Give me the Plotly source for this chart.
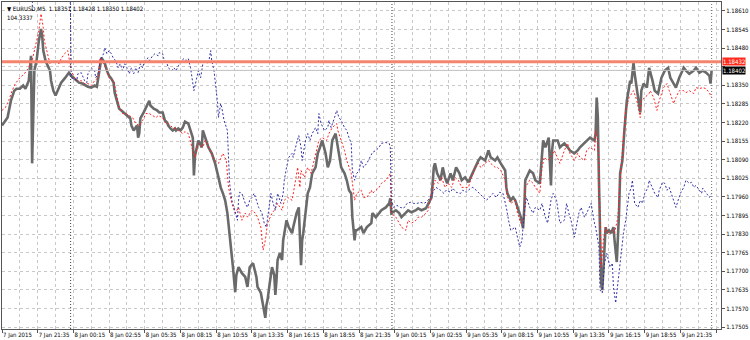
import plotly.graph_objects as go

# ---- axis labels ----
tick_bars = [0, 32, 64, 96, 128, 160, 192, 224, 256, 288, 320, 352, 384, 416, 448, 480, 512, 544, 576, 608, 640]
tick_text = ["7 Jan 2015", "7 Jan 21:35", "8 Jan 00:15", "8 Jan 02:55", "8 Jan 05:35", "8 Jan 08:15",
             "8 Jan 10:55", "8 Jan 13:35", "8 Jan 16:15", "8 Jan 18:55", "8 Jan 21:35", "9 Jan 00:15",
             "9 Jan 02:55", "9 Jan 05:35", "9 Jan 08:15", "9 Jan 10:55", "9 Jan 13:35", "9 Jan 16:15",
             "9 Jan 18:55", "9 Jan 21:35", ""]
minor_bars = [16, 48, 80, 112, 144, 176, 208, 240, 272, 304, 336, 368, 400, 432, 464, 496, 528, 560, 592, 624]
price_ticks = [1.18610, 1.18545, 1.18480, 1.18415, 1.18350, 1.18285, 1.18220, 1.18155, 1.18090,
               1.18025, 1.17960, 1.17895, 1.17830, 1.17765, 1.17700, 1.17635, 1.17570, 1.17505]
price_tick_text = ["1.18610", "1.18545", "1.18480", "", "1.18350", "1.18285", "1.18220", "1.18155", "1.18090",
                   "1.18025", "1.17960", "1.17895", "1.17830", "1.17765", "1.17700", "1.17635", "1.17570", "1.17505"]

header_text = "▼ EURUSD,M5  1.18351 1.18428 1.18350 1.18402"
sub_text = "104.3337"
level_line = 1.18432
bid_line = 1.18402
day_separators = [61.5, 349.5]
last_bar_marker = 636

# ---- EURUSD M5 (gray) ----
gray_bar = [0, 3, 5, 8, 11, 13, 16, 19, 21, 24,
            26, 27, 28, 29, 31, 33, 35, 36, 37, 39,
            41, 43, 44, 46, 48, 50, 52, 53, 56, 59,
            60, 62, 64, 67, 69, 72, 75, 77, 80, 83,
            85, 86, 88, 89, 91, 92, 94, 96, 98, 100,
            101, 103, 105, 107, 109, 112, 115, 116, 118, 121,
            122, 123, 124, 127, 130, 132, 133, 136, 139, 141,
            144, 146, 148, 149, 151, 153, 155, 156, 158, 160,
            162, 164, 167, 171, 172, 173, 174, 176, 179, 180,
            183, 185, 188, 191, 194, 196, 198, 200, 202, 204,
            206, 207, 209, 210, 212, 215, 218, 220, 222, 225,
            228, 229, 232, 234, 236, 237, 238, 240, 242, 244,
            245, 246, 247, 249, 251, 252, 255, 257, 260, 261,
            264, 266, 268, 269, 270, 272, 274, 276, 278, 281,
            283, 285, 287, 290, 292, 294, 296, 299, 300, 302,
            304, 307, 309, 311, 313, 314, 316, 317, 318, 322,
            324, 327, 331, 332, 335, 338, 340, 344, 347, 348,
            349, 353, 356, 358, 362, 364, 367, 371, 373, 376,
            380, 382, 385, 387, 388, 390, 393, 395, 397, 399,
            402, 404, 407, 410, 412, 415, 418, 420, 424, 427,
            429, 433, 436, 438, 442, 444, 447, 451, 452, 453,
            456, 458, 460, 462, 465, 467, 468, 469, 473, 476,
            478, 482, 484, 485, 487, 490, 492, 493, 494, 496,
            498, 500, 504, 507, 509, 513, 516, 518, 522, 524,
            527, 531, 532, 533, 534, 535, 536, 537, 538, 540,
            541, 542, 544, 546, 548, 549, 551, 553, 554, 556,
            557, 558, 560, 562, 563, 564, 566, 567, 569, 572,
            573, 575, 578, 580, 583, 585, 588, 591, 594, 597,
            599, 602, 604, 607, 611, 613, 616, 620, 622, 625,
            628, 631, 634, 635, 636]
gray_price = [1.18209, 1.18227, 1.18237, 1.18296, 1.18331, 1.18338, 1.18338, 1.18349, 1.18338, 1.18366,
              1.18453, 1.18077, 1.18227, 1.18401, 1.18436, 1.18505, 1.18547, 1.18523, 1.18471, 1.18436,
              1.18418, 1.18401, 1.18366, 1.18331, 1.18314, 1.18331, 1.18349, 1.18359, 1.18373, 1.18387,
              1.18394, 1.18383, 1.18376, 1.18366, 1.18359, 1.18356, 1.18349, 1.18345, 1.18342, 1.18349,
              1.18345, 1.18366, 1.18418, 1.18446, 1.18436, 1.18429, 1.18401, 1.18383, 1.18373, 1.18359,
              1.18324, 1.18296, 1.18268, 1.18262, 1.18255, 1.18244, 1.18234, 1.18209, 1.18192, 1.18209,
              1.18167, 1.18181, 1.18234, 1.18255, 1.18279, 1.18296, 1.18279, 1.18268, 1.18262, 1.18255,
              1.18255, 1.18227, 1.18220, 1.18209, 1.18199, 1.18192, 1.18199, 1.18192, 1.18199, 1.18192,
              1.18202, 1.18223, 1.18216, 1.18167, 1.18035, 1.18105, 1.18122, 1.18157, 1.18133, 1.18192,
              1.18157, 1.18133, 1.18112, 1.18077, 1.18028, 1.17993, 1.17972, 1.17948, 1.17903, 1.17833,
              1.17763, 1.17714, 1.17627, 1.17686, 1.17714, 1.17693, 1.17680, 1.17645, 1.17714, 1.17728,
              1.17680, 1.17645, 1.17624, 1.17575, 1.17537, 1.17582, 1.17599, 1.17659, 1.17714, 1.17686,
              1.17617, 1.17669, 1.17739, 1.17763, 1.17739, 1.17808, 1.17878, 1.17854, 1.17833, 1.17854,
              1.17903, 1.17923, 1.17721, 1.17808, 1.17833, 1.17903, 1.17972, 1.17993, 1.18042, 1.18063,
              1.18112, 1.18133, 1.18157, 1.18112, 1.18063, 1.18087, 1.18157, 1.18181, 1.18157, 1.18122,
              1.18063, 1.18042, 1.18018, 1.17983, 1.17972, 1.17889, 1.17808, 1.17843, 1.17843, 1.17854,
              1.17833, 1.17854, 1.17868, 1.17903, 1.17889, 1.17903, 1.17913, 1.17923, 1.17937, 1.17955,
              1.17903, 1.17913, 1.17903, 1.17889, 1.17903, 1.17913, 1.17906, 1.17913, 1.17920, 1.17913,
              1.17920, 1.17937, 1.17958, 1.18063, 1.18077, 1.18042, 1.18018, 1.18063, 1.18028, 1.18007,
              1.18042, 1.18018, 1.18063, 1.18042, 1.18018, 1.18028, 1.18011, 1.18028, 1.18063, 1.18087,
              1.18098, 1.18087, 1.18122, 1.18098, 1.18087, 1.18098, 1.18077, 1.18052, 1.17993, 1.17972,
              1.17948, 1.17958, 1.17948, 1.17923, 1.17889, 1.17850, 1.17913, 1.18018, 1.18052, 1.18042,
              1.18018, 1.18007, 1.18098, 1.18157, 1.18133, 1.18167, 1.18000, 1.18122, 1.18157, 1.18157,
              1.18157, 1.18133, 1.18147, 1.18133, 1.18122, 1.18112, 1.18122, 1.18133, 1.18147, 1.18157,
              1.18167, 1.18157, 1.18181, 1.18307, 1.18237, 1.18018, 1.17833, 1.17659, 1.17634, 1.17774,
              1.17854, 1.17833, 1.17843, 1.17833, 1.17854, 1.17808, 1.17732, 1.17903, 1.18042, 1.18087,
              1.18157, 1.18202, 1.18296, 1.18356, 1.18366, 1.18356, 1.18429, 1.18390, 1.18331, 1.18255,
              1.18331, 1.18356, 1.18342, 1.18411, 1.18366, 1.18331, 1.18321, 1.18376, 1.18401, 1.18411,
              1.18376, 1.18356, 1.18342, 1.18376, 1.18411, 1.18401, 1.18390, 1.18401, 1.18411, 1.18394,
              1.18401, 1.18394, 1.18383, 1.18356, 1.18402]

# ---- red dotted indicator ----
red_bar = [0, 3, 6, 9, 12, 16, 20, 24, 27, 29,
           33, 35, 37, 38, 41, 43, 44, 47, 51, 53,
           56, 59, 60, 62, 65, 68, 71, 74, 77, 80,
           83, 86, 88, 91, 93, 96, 100, 102, 105, 108,
           111, 114, 117, 120, 123, 126, 129, 132, 135, 138,
           140, 144, 147, 149, 153, 156, 158, 162, 164, 167,
           171, 173, 176, 180, 182, 185, 188, 191, 194, 196,
           198, 201, 203, 206, 209, 212, 215, 218, 220, 224,
           227, 229, 232, 234, 236, 238, 242, 244, 247, 251,
           253, 256, 260, 262, 265, 267, 268, 271, 274, 277,
           280, 283, 284, 287, 291, 293, 296, 300, 301, 304,
           307, 309, 313, 316, 318, 322, 324, 327, 331, 332,
           335, 338, 340, 344, 347, 348, 349, 353, 356, 358,
           362, 364, 367, 371, 373, 376, 380, 382, 385, 388,
           391, 394, 397, 400, 403, 406, 409, 412, 415, 418,
           420, 424, 427, 429, 433, 436, 438, 442, 444, 447,
           451, 453, 456, 460, 462, 465, 468, 469, 473, 476,
           478, 482, 484, 486, 489, 492, 495, 498, 500, 504,
           507, 509, 513, 516, 518, 522, 524, 527, 531, 532,
           534, 535, 536, 537, 539, 541, 544, 547, 549, 552,
           554, 556, 557, 559, 562, 564, 566, 569, 572, 573,
           576, 580, 581, 584, 587, 589, 593, 596, 598, 602,
           604, 607, 611, 613, 616, 620, 622, 625, 628, 631,
           634, 636]
red_price = [1.18262, 1.18272, 1.18296, 1.18331, 1.18356, 1.18376, 1.18390, 1.18411, 1.18436, 1.18471,
             1.18540, 1.18600, 1.18551, 1.18505, 1.18460, 1.18425, 1.18429, 1.18436, 1.18425, 1.18443,
             1.18460, 1.18471, 1.18446, 1.18401, 1.18376, 1.18366, 1.18366, 1.18356, 1.18356, 1.18349,
             1.18366, 1.18376, 1.18446, 1.18425, 1.18411, 1.18376, 1.18366, 1.18331, 1.18272, 1.18251,
             1.18251, 1.18244, 1.18237, 1.18216, 1.18209, 1.18227, 1.18251, 1.18251, 1.18244, 1.18237,
             1.18244, 1.18237, 1.18216, 1.18216, 1.18202, 1.18199, 1.18192, 1.18181, 1.18188, 1.18181,
             1.18122, 1.18098, 1.18147, 1.18133, 1.18157, 1.18133, 1.18112, 1.18087, 1.18077, 1.18098,
             1.18112, 1.18087, 1.17993, 1.17937, 1.17903, 1.17923, 1.17878, 1.17903, 1.17889, 1.17913,
             1.17903, 1.17889, 1.17854, 1.17774, 1.17808, 1.17868, 1.17903, 1.17913, 1.17937, 1.17913,
             1.17948, 1.17958, 1.17948, 1.17993, 1.18063, 1.17993, 1.18052, 1.18028, 1.18063, 1.18042,
             1.18087, 1.18133, 1.18157, 1.18167, 1.18157, 1.18181, 1.18202, 1.18216, 1.18192, 1.18157,
             1.18122, 1.18087, 1.18042, 1.17948, 1.17972, 1.17983, 1.17958, 1.17958, 1.17983, 1.17972,
             1.17983, 1.17993, 1.18007, 1.18018, 1.18035, 1.18042, 1.17903, 1.17889, 1.17868, 1.17854,
             1.17843, 1.17878, 1.17868, 1.17878, 1.17889, 1.17889, 1.17903, 1.17913, 1.17972, 1.18018,
             1.18007, 1.18028, 1.17993, 1.18007, 1.17993, 1.18028, 1.18018, 1.17993, 1.17993, 1.17993,
             1.18018, 1.18063, 1.18077, 1.18063, 1.18077, 1.18087, 1.18077, 1.18063, 1.18063, 1.18052,
             1.18018, 1.17958, 1.17937, 1.17948, 1.17903, 1.17868, 1.17889, 1.17993, 1.18018, 1.18007,
             1.17993, 1.17972, 1.18063, 1.18098, 1.18087, 1.18098, 1.18122, 1.18098, 1.18077, 1.18122,
             1.18147, 1.18112, 1.18087, 1.18112, 1.18098, 1.18087, 1.18122, 1.18133, 1.18122, 1.18192,
             1.18157, 1.18063, 1.17833, 1.17714, 1.17808, 1.17854, 1.17833, 1.17843, 1.17833, 1.17889,
             1.18018, 1.18112, 1.18181, 1.18262, 1.18307, 1.18321, 1.18331, 1.18296, 1.18237, 1.18296,
             1.18307, 1.18321, 1.18331, 1.18307, 1.18262, 1.18296, 1.18342, 1.18356, 1.18331, 1.18286,
             1.18307, 1.18331, 1.18331, 1.18324, 1.18331, 1.18321, 1.18342, 1.18338, 1.18342, 1.18338,
             1.18324, 1.18307]

# ---- blue dotted overlay ----
blue_bar = [27, 28, 61, 62, 65, 67, 68, 71, 74, 76,
            77, 80, 83, 84, 86, 88, 91, 92, 94, 96,
            98, 100, 102, 104, 106, 108, 110, 112, 114, 116,
            118, 120, 122, 124, 126, 128, 131, 132, 135, 137,
            140, 141, 144, 145, 148, 149, 152, 154, 156, 158,
            161, 163, 165, 167, 169, 171, 172, 174, 176, 178,
            180, 182, 185, 187, 188, 190, 193, 194, 196, 197,
            199, 202, 203, 204, 206, 208, 211, 212, 213, 215,
            218, 220, 222, 224, 226, 228, 230, 233, 235, 237,
            239, 241, 243, 245, 247, 250, 252, 253, 255, 257,
            260, 261, 264, 266, 268, 269, 272, 274, 276, 278,
            281, 283, 284, 286, 289, 292, 293, 295, 298, 300,
            302, 304, 307, 309, 311, 313, 314, 316, 318, 320,
            322, 324, 327, 329, 332, 335, 338, 340, 344, 347,
            348, 349, 351, 354, 357, 360, 363, 366, 369, 372,
            375, 378, 380, 384, 387, 389, 393, 396, 398, 402,
            404, 407, 411, 413, 416, 420, 422, 425, 428, 431,
            434, 437, 440, 443, 446, 449, 452, 454, 456, 460,
            461, 464, 466, 468, 470, 473, 476, 478, 482, 484,
            487, 489, 492, 494, 497, 499, 500, 504, 506, 508,
            510, 513, 515, 517, 519, 522, 524, 526, 528, 531,
            532, 535, 536, 538, 540, 542, 545, 547, 548, 550,
            553, 555, 557, 559, 562, 564, 565, 567, 570, 572,
            574, 576, 579, 580, 583, 585, 588, 589, 592, 594,
            596, 598, 601, 604, 606, 608, 611, 613, 616, 618,
            620, 622, 625, 627, 628, 631, 634, 636]
blue_price = [1.18610, 1.18715, 1.18715, 1.18376, 1.18373, 1.18366, 1.18390, 1.18394, 1.18366, 1.18359,
              1.18390, 1.18411, 1.18401, 1.18376, 1.18390, 1.18436, 1.18460, 1.18481, 1.18460, 1.18471,
              1.18460, 1.18443, 1.18436, 1.18411, 1.18425, 1.18401, 1.18425, 1.18411, 1.18390, 1.18411,
              1.18390, 1.18411, 1.18394, 1.18425, 1.18411, 1.18436, 1.18446, 1.18436, 1.18453, 1.18460,
              1.18453, 1.18464, 1.18460, 1.18443, 1.18425, 1.18411, 1.18401, 1.18411, 1.18401, 1.18418,
              1.18436, 1.18443, 1.18436, 1.18443, 1.18411, 1.18342, 1.18331, 1.18366, 1.18401, 1.18376,
              1.18425, 1.18436, 1.18425, 1.18471, 1.18436, 1.18401, 1.18296, 1.18237, 1.18286, 1.18272,
              1.18227, 1.18192, 1.18098, 1.18007, 1.17948, 1.17923, 1.17878, 1.17948, 1.17976, 1.17972,
              1.17937, 1.17923, 1.17948, 1.17958, 1.17972, 1.17948, 1.17923, 1.17903, 1.17868, 1.17854,
              1.17923, 1.17972, 1.17937, 1.17913, 1.17972, 1.17937, 1.17972, 1.18018, 1.18063, 1.18098,
              1.18112, 1.18098, 1.18147, 1.18174, 1.18133, 1.18087, 1.18157, 1.18181, 1.18157, 1.18181,
              1.18202, 1.18181, 1.18251, 1.18216, 1.18192, 1.18202, 1.18227, 1.18202, 1.18237, 1.18262,
              1.18237, 1.18227, 1.18202, 1.18192, 1.18167, 1.18147, 1.18052, 1.18018, 1.18042, 1.18052,
              1.18087, 1.18063, 1.18077, 1.18094, 1.18115, 1.18122, 1.18133, 1.18147, 1.18150, 1.18147,
              1.18133, 1.17948, 1.17923, 1.17930, 1.17923, 1.17920, 1.17937, 1.17941, 1.17937, 1.17937,
              1.17941, 1.17937, 1.17941, 1.17958, 1.17983, 1.17993, 1.17983, 1.17972, 1.17983, 1.17976,
              1.17990, 1.17976, 1.17972, 1.17983, 1.17976, 1.17990, 1.17993, 1.17983, 1.17972, 1.17958,
              1.17948, 1.17958, 1.17972, 1.17958, 1.17976, 1.17972, 1.17923, 1.17878, 1.17843, 1.17854,
              1.17833, 1.17784, 1.17808, 1.17903, 1.17958, 1.17923, 1.17903, 1.17923, 1.17913, 1.17937,
              1.17889, 1.17868, 1.17948, 1.17972, 1.17948, 1.17889, 1.17868, 1.17878, 1.17937, 1.17903,
              1.17878, 1.17819, 1.17868, 1.17903, 1.17923, 1.17889, 1.17903, 1.17923, 1.17937, 1.17868,
              1.17854, 1.17784, 1.17634, 1.17624, 1.17728, 1.17763, 1.17714, 1.17728, 1.17645, 1.17589,
              1.17693, 1.17784, 1.17833, 1.17878, 1.17972, 1.17993, 1.18018, 1.17937, 1.17923, 1.17948,
              1.17937, 1.17972, 1.17993, 1.18018, 1.17993, 1.17972, 1.17958, 1.17983, 1.18011, 1.18007,
              1.17983, 1.17993, 1.17958, 1.17923, 1.17948, 1.17972, 1.17993, 1.18018, 1.18007, 1.18011,
              1.17993, 1.18000, 1.17983, 1.17972, 1.17990, 1.17976, 1.17958, 1.17972]

FONT = "Liberation Sans Narrow, DejaVu Sans Condensed, Liberation Sans, Arial, sans-serif"

fig = go.Figure()
fig.add_trace(go.Scatter(x=gray_bar, y=gray_price, mode="lines",
                         line=dict(color="#6a6a6a", width=2.6), hoverinfo="skip"))
fig.add_trace(go.Scatter(x=red_bar, y=red_price, mode="lines",
                         line=dict(color="#ff2020", width=1, dash="2px,2px"), hoverinfo="skip"))
fig.add_trace(go.Scatter(x=blue_bar, y=blue_price, mode="lines",
                         line=dict(color="#3030a8", width=1, dash="2px,2px"), hoverinfo="skip"))

for b in day_separators:
    fig.add_vline(x=b, line=dict(color="#404040", width=1, dash="1px,2px"), layer="above")
fig.add_vline(x=last_bar_marker, line=dict(color="#707070", width=1, dash="1px,2px"), layer="above")

fig.add_hline(y=bid_line, line=dict(color="#c0c0c0", width=1), layer="above")
fig.add_hline(y=level_line, line=dict(color="#f4846e", width=3), layer="above")

fig.add_annotation(xref="paper", yref="y", x=1.0, y=level_line, xanchor="left", yanchor="middle",
                   text=level_line.__format__(".5f"), showarrow=False, bgcolor="#ff2a1a",
                   font=dict(family=FONT, size=6, color="white"), borderpad=0, xshift=1)
fig.add_annotation(xref="paper", yref="y", x=1.0, y=bid_line, xanchor="left", yanchor="middle",
                   text=bid_line.__format__(".5f"), showarrow=False, bgcolor="#000000",
                   font=dict(family=FONT, size=6, color="white"), borderpad=0, xshift=1)

fig.add_annotation(xref="paper", yref="paper", x=0, y=1, xanchor="left", yanchor="top",
                   text=header_text, showarrow=False, xshift=3, yshift=-1,
                   font=dict(family=FONT, size=6, color="black"))
fig.add_annotation(xref="paper", yref="paper", x=0, y=1, xanchor="left", yanchor="top",
                   text=sub_text, showarrow=False, xshift=3, yshift=-10,
                   font=dict(family=FONT, size=6, color="black"))

fig.update_layout(
    width=750, height=340,
    margin=dict(l=1, r=24, t=1, b=11),
    paper_bgcolor="white", plot_bgcolor="white",
    showlegend=False,
    xaxis=dict(range=[0, 644.4], tickmode="array", tickvals=tick_bars, ticktext=tick_text,
               tickangle=0,
               ticklabelposition="outside right", ticks="outside", ticklen=3, tickcolor="#555555",
               tickfont=dict(family=FONT, size=6, color="black"),
               showgrid=True, gridcolor="#c8c8c8", griddash="dot", gridwidth=1,
               minor=dict(tickvals=minor_bars, showgrid=True, gridcolor="#c8c8c8", griddash="dot",
                          ticks=""),
               showline=True, linecolor="#555555", linewidth=1, mirror=True, zeroline=False),
    yaxis=dict(range=[1.17498, 1.18641], side="right", tickmode="array", tickvals=price_ticks,
               ticktext=price_tick_text, ticks="outside", ticklen=3, tickcolor="#555555",
               tickfont=dict(family=FONT, size=6, color="black"),
               showgrid=True, gridcolor="#c8c8c8", griddash="dot", gridwidth=1,
               showline=True, linecolor="#555555", linewidth=1, mirror=True, zeroline=False),
)

fig.write_html("out.html")
